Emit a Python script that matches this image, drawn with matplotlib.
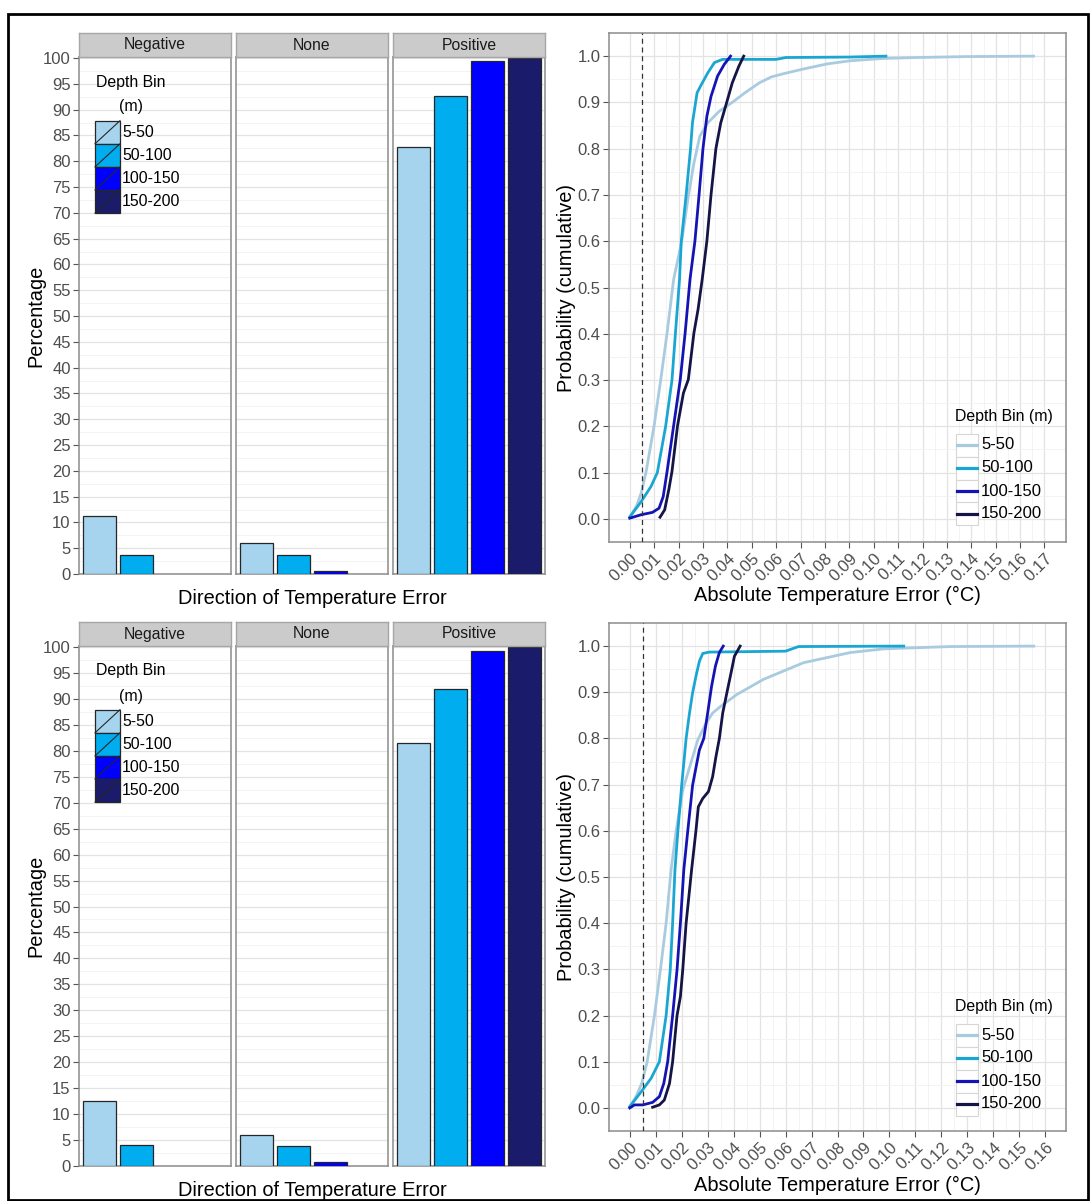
import numpy as np
import matplotlib
matplotlib.use("Agg")
import matplotlib.pyplot as plt
from matplotlib.patches import Rectangle
from matplotlib.lines import Line2D

plt.rcParams['font.family'] = ['Liberation Sans', 'DejaVu Sans']

# ------------------------------------------------------------------
# data
# ------------------------------------------------------------------
depth_bins = ['5-50', '50-100', '100-150', '150-200']
directions = ['Negative', 'None', 'Positive']

bar_colors = ['#a6d4ee', '#00aeef', '#0000ff', '#1b1b6b']
line_colors = ['#a9cbe0', '#1aa6d2', '#1414b4', '#141446']

# percentage per depth bin, one list per direction (top figure)
top_negative = [11.2, 3.7, 0.0, 0.0]
top_none = [6.0, 3.7, 0.5, 0.0]
top_positive = [82.8, 92.6, 99.5, 100.0]

# bottom figure
bot_negative = [12.6, 4.1, 0.0, 0.0]
bot_none = [6.0, 3.9, 0.8, 0.0]
bot_positive = [81.5, 92.0, 99.2, 100.0]

# cumulative distributions, top panel
top_x_5_50 = [0, 0.0027, 0.0047, 0.0067, 0.0100, 0.0127, 0.0153, 0.0180, 0.0213, 0.0240,
              0.0263, 0.0287, 0.0320, 0.0367, 0.0420, 0.0470, 0.0530, 0.0580, 0.0630, 0.0710,
              0.0807, 0.0903, 0.1038, 0.1176, 0.1380, 0.1655]
top_y_5_50 = [0.004, 0.027, 0.056, 0.102, 0.202, 0.301, 0.402, 0.518, 0.600, 0.697,
              0.769, 0.827, 0.856, 0.881, 0.900, 0.920, 0.942, 0.955, 0.962, 0.972,
              0.983, 0.990, 0.995, 0.997, 0.999, 1.000]
top_x_50_100 = [0, 0.0047, 0.0087, 0.0113, 0.0147, 0.0173, 0.0187, 0.0204, 0.0211, 0.0231,
                0.0249, 0.0257, 0.0276, 0.0297, 0.0320, 0.0347, 0.0380, 0.0600, 0.0640,
                0.0900, 0.1050]
top_y_50_100 = [0.004, 0.0375, 0.070, 0.100, 0.200, 0.300, 0.400, 0.518, 0.599, 0.700,
                0.800, 0.856, 0.921, 0.942, 0.964, 0.986, 0.993, 0.993, 0.997,
                0.998, 1.000]
top_x_100_150 = [0, 0.0047, 0.0093, 0.0120, 0.0137, 0.0153, 0.0180, 0.0207, 0.0227, 0.0247,
                 0.0267, 0.0284, 0.0300, 0.0316, 0.0333, 0.0360, 0.0387, 0.0413]
top_y_100_150 = [0.0015, 0.009, 0.014, 0.023, 0.048, 0.1025, 0.202, 0.301, 0.402, 0.518,
                 0.600, 0.700, 0.800, 0.870, 0.913, 0.957, 0.982, 1.000]
top_x_150_200 = [0.0124, 0.0143, 0.0160, 0.0173, 0.0196, 0.0220, 0.0240, 0.0263, 0.0280, 0.0297,
                 0.0316, 0.0333, 0.0353, 0.0373, 0.0393, 0.0420, 0.0447, 0.0467]
top_y_150_200 = [0.0036, 0.0195, 0.063, 0.1025, 0.202, 0.272, 0.301, 0.402, 0.453, 0.518,
                 0.600, 0.700, 0.800, 0.856, 0.892, 0.942, 0.978, 1.000]

# cumulative distributions, bottom panel
bot_x_5_50 = [0, 0.0024, 0.0046, 0.0067, 0.0095, 0.0118, 0.0140, 0.0159, 0.0178, 0.0204,
              0.0262, 0.0294, 0.0319, 0.0351, 0.0412, 0.0515, 0.0669, 0.0849, 0.0978, 0.1236,
              0.1556]
bot_y_5_50 = [0.0015, 0.0245, 0.053, 0.100, 0.200, 0.299, 0.400, 0.515, 0.598, 0.688,
              0.797, 0.833, 0.855, 0.870, 0.895, 0.928, 0.964, 0.986, 0.994, 0.999,
              1.000]
bot_x_50_100 = [0, 0.0044, 0.0082, 0.0114, 0.0140, 0.0156, 0.0165, 0.0174, 0.0185, 0.0200,
                0.0217, 0.0230, 0.0242, 0.0255, 0.0268, 0.0281, 0.0306, 0.0600, 0.0650, 0.1055]
bot_y_50_100 = [0.003, 0.035, 0.064, 0.100, 0.200, 0.300, 0.400, 0.515, 0.598, 0.699,
                0.800, 0.855, 0.899, 0.935, 0.967, 0.984, 0.987, 0.989, 0.999, 1.000]
bot_x_100_150 = [0, 0.0018, 0.0050, 0.0088, 0.0114, 0.0131, 0.0146, 0.0165, 0.0182, 0.0195,
                 0.0208, 0.0223, 0.0242, 0.0268, 0.0285, 0.0300, 0.0315, 0.0330, 0.0345, 0.0360]
bot_y_100_150 = [0.0, 0.0065, 0.0065, 0.012, 0.0245, 0.053, 0.100, 0.200, 0.299, 0.400,
                 0.515, 0.598, 0.699, 0.775, 0.800, 0.855, 0.913, 0.957, 0.986, 1.000]
bot_x_150_200 = [0.0088, 0.0114, 0.0133, 0.0153, 0.0165, 0.0182, 0.0195, 0.0204, 0.0217, 0.0238,
                 0.0255, 0.0264, 0.0281, 0.0303, 0.0319, 0.0332, 0.0345, 0.0358, 0.0374, 0.0390,
                 0.0403, 0.0425]
bot_y_150_200 = [0.0015, 0.0065, 0.017, 0.053, 0.100, 0.200, 0.241, 0.299, 0.400, 0.515,
                 0.601, 0.652, 0.670, 0.685, 0.717, 0.761, 0.800, 0.855, 0.899, 0.942,
                 0.978, 1.000]

dashed_x = 0.005

# ------------------------------------------------------------------
# layout helpers (pixel coords of the 1090x1201 picture)
# ------------------------------------------------------------------
W, H = 1090, 1201
fig = plt.figure(figsize=(W / 100, H / 100), dpi=100)
fig.patch.set_facecolor('white')

BORDER = '#8c8c8c'
GRID_MAJ = '#e3e3e3'
GRID_MIN = '#f1f1f1'
TICK_TXT = '#4d4d4d'


def add_axes_px(x0, y0, x1, y1):
    return fig.add_axes([x0 / W, 1 - y1 / H, (x1 - x0) / W, (y1 - y0) / H])


def fx(x):
    return x / W


def fy(y):
    return 1 - y / H


def style_spines(ax, color=BORDER, lw=1.1):
    for s in ax.spines.values():
        s.set_color(color)
        s.set_linewidth(lw)


# ------------------------------------------------------------------
# bar panels (faceted by direction)
# ------------------------------------------------------------------
def bar_block(panel_top, panel_bot, values, label_base):
    lefts = [79, 236, 393]
    for i, d in enumerate(directions):
        ax = add_axes_px(lefts[i], panel_top, lefts[i] + 152, panel_bot)
        vals = values[i]
        for j, v in enumerate(vals):
            if v > 0:
                ax.bar(j, v, width=0.9, color=bar_colors[j], edgecolor='#262626',
                       linewidth=0.9, zorder=3)
        ax.set_xlim(-0.55, 3.55)
        ax.set_ylim(0, 100.2)
        ax.set_xticks([])
        ax.set_yticks(np.arange(0, 101, 5))
        ax.set_yticks(np.arange(2.5, 100, 5), minor=True)
        ax.grid(axis='y', which='major', color=GRID_MAJ, lw=0.9, zorder=0)
        ax.grid(axis='y', which='minor', color=GRID_MIN, lw=0.6, zorder=0)
        ax.set_axisbelow(True)
        style_spines(ax)
        if i == 0:
            ax.tick_params(axis='y', which='major', length=4, color='#555555',
                           labelsize=12, labelcolor=TICK_TXT, pad=2)
            ax.tick_params(axis='y', which='minor', length=0)
        else:
            ax.tick_params(axis='y', which='both', length=0, labelleft=False)

        # strip
        sx = add_axes_px(lefts[i], panel_top - 24, lefts[i] + 152, panel_top)
        sx.set_facecolor('#cbcbcb')
        sx.set_xticks([])
        sx.set_yticks([])
        style_spines(sx, '#a6a6a6', 1.0)
        sx.text(0.5, 0.5, d, ha='center', va='center', fontsize=11.3,
                color='#1a1a1a', transform=sx.transAxes)

    # y label and x label
    fig.text(fx(36), fy((panel_top + panel_bot) / 2), 'Percentage', rotation=90,
             ha='center', va='center', fontsize=14.4)
    fig.text(fx(312), fy(label_base), 'Direction of Temperature Error',
             ha='center', va='baseline', fontsize=14.4)

    # legend inside the Negative facet
    off = panel_top - 57
    fig.text(fx(130.5), fy(82 + off), 'Depth Bin', ha='center', va='center', fontsize=11.4)
    fig.text(fx(130.5), fy(107 + off), '(m)', ha='center', va='center', fontsize=11.4)
    kx0, kx1 = 95, 120
    for j, lab in enumerate(depth_bins):
        ky0 = 120.7 + off + j * 23.1
        ky1 = ky0 + 23.1
        fig.add_artist(Rectangle((fx(kx0), fy(ky1)), fx(kx1 - kx0), (ky1 - ky0) / H,
                                 transform=fig.transFigure, facecolor=bar_colors[j],
                                 edgecolor='#262626', lw=0.9))
        fig.add_artist(Line2D([fx(kx0), fx(kx1)], [fy(ky1), fy(ky0)],
                              transform=fig.transFigure, color='#262626', lw=0.8))
        fig.text(fx(122), fy((ky0 + ky1) / 2), lab, ha='left', va='center', fontsize=11.4)


bar_block(57, 574, [top_negative, top_none, top_positive], 604)
bar_block(646, 1166, [bot_negative, bot_none, bot_positive], 1196)


# ------------------------------------------------------------------
# cumulative probability panels
# ------------------------------------------------------------------
def cdf_block(panel_top, panel_bot, xs, ys, xmax, label_base):
    ax = add_axes_px(609, panel_top, 1066, panel_bot)
    for x, y, c in zip(xs, ys, line_colors):
        ax.plot(x, y, color=c, lw=2.0, solid_joinstyle='round', zorder=3)
    ax.axvline(dashed_x, color='#333333', lw=0.9, ls=(0, (4, 3)), zorder=4)
    ax.set_xlim(-0.05 * xmax, 1.05 * xmax)
    ax.set_ylim(-0.05, 1.05)
    xt = np.round(np.arange(0, xmax + 1e-9, 0.01), 2)
    ax.set_xticks(xt)
    ax.set_xticks(xt[:-1] + 0.005, minor=True)
    ax.set_xticklabels(['%.2f' % v for v in xt], rotation=45, ha='right', va='top',
                       rotation_mode='anchor')
    yt = np.round(np.arange(0, 1.001, 0.1), 1)
    ax.set_yticks(yt)
    ax.set_yticks(yt[:-1] + 0.05, minor=True)
    ax.set_yticklabels(['%.1f' % v for v in yt])
    ax.grid(which='major', color=GRID_MAJ, lw=0.9, zorder=0)
    ax.grid(which='minor', color=GRID_MIN, lw=0.6, zorder=0)
    ax.set_axisbelow(True)
    ax.tick_params(which='major', length=4, color='#555555', labelsize=12,
                   labelcolor=TICK_TXT, pad=2)
    ax.tick_params(which='minor', length=0)
    style_spines(ax)

    fig.text(fx(566), fy((panel_top + panel_bot) / 2), 'Probability (cumulative)',
             rotation=90, ha='center', va='center', fontsize=14.4)
    fig.text(fx(837), fy(label_base), 'Absolute Temperature Error (\u00b0C)',
             ha='center', va='baseline', fontsize=14.4)

    # legend
    off = panel_top - 33
    fig.text(fx(955), fy(417 + off), 'Depth Bin (m)', ha='left', va='center', fontsize=11.4)
    for j, lab in enumerate(depth_bins):
        yc = 445 + off + j * 23
        fig.add_artist(Rectangle((fx(955.5), fy(yc + 11.5)), fx(22), 23 / H,
                                 transform=fig.transFigure, facecolor='white',
                                 edgecolor='#d6d6d6', lw=0.8))
        fig.add_artist(Line2D([fx(956.5), fx(976.5)], [fy(yc), fy(yc)],
                              transform=fig.transFigure, color=line_colors[j], lw=2.3))
        fig.text(fx(981), fy(yc), lab, ha='left', va='center', fontsize=12)


cdf_block(33, 542,
          [top_x_5_50, top_x_50_100, top_x_100_150, top_x_150_200],
          [top_y_5_50, top_y_50_100, top_y_100_150, top_y_150_200],
          0.1703, 601)
cdf_block(623, 1131,
          [bot_x_5_50, bot_x_50_100, bot_x_100_150, bot_x_150_200],
          [bot_y_5_50, bot_y_50_100, bot_y_100_150, bot_y_150_200],
          0.16, 1191)

# outer black frame
fig.add_artist(Rectangle((fx(8), fy(1200)), fx(1080), 1186 / H, transform=fig.transFigure,
                         facecolor='none', edgecolor='black', lw=2))

fig.savefig('out.png', dpi=100)
